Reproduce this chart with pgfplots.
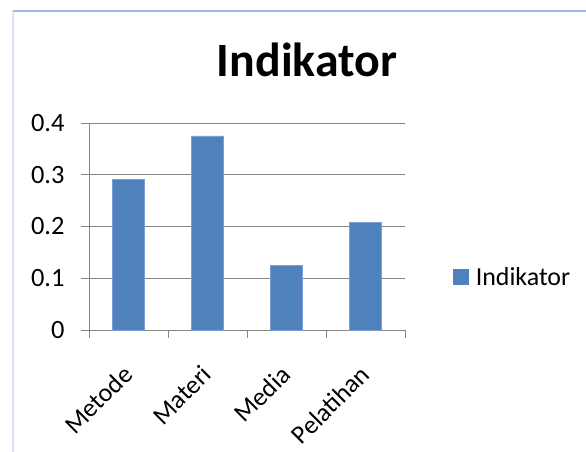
\documentclass[border=0pt]{standalone}
\usepackage{pgfplots}
\pgfplotsset{compat=1.18}
\usepackage{fontspec}
\setmainfont{Carlito}
\definecolor{barblue}{HTML}{4F81BD}
\definecolor{baredge}{HTML}{7A9FD3}
\definecolor{gridgray}{HTML}{868686}
\definecolor{frametop}{HTML}{A3B5EE}
\definecolor{frameleft}{HTML}{DCE3F3}
\begin{document}
\begin{tikzpicture}[x=1bp,y=1bp]
\useasboundingbox (0,0) rectangle (586,452);
\draw[frameleft, line width=1.5bp] (13,441) -- (13,0);
\draw[frametop, line width=1.5bp] (13,441) -- (586,441);
\node[anchor=base, font=\fontsize{48}{54}\selectfont\bfseries, inner sep=0pt] at (307,375) {Indikator};
\begin{axis}[
  at={(89bp,122bp)}, anchor=south west,
  scale only axis, width=316bp, height=207bp,
  xmin=-0.5, xmax=3.5, ymin=0, ymax=0.4,
  axis x line*=bottom, axis y line*=left,
  axis line style={gridgray, line width=0.8bp},
  ytick={0,0.1,0.2,0.3,0.4},
  ymajorgrids, grid style={gridgray, line width=0.8bp},
  tick align=outside,
  major tick length=8bp, minor tick length=8bp,
  xtick={0,1,2,3},
  xticklabels={Metode,Materi,Media,Pelatihan},
  minor xtick={-0.5,0.5,1.5,2.5,3.5},
  major x tick style={draw=none},
  minor x tick style={gridgray, line width=0.8bp},
  ytick style={gridgray, line width=0.8bp},
  /pgf/number format/assume math mode=true,
  yticklabel style={font=\fontsize{26.5}{30}\selectfont, xshift=-13bp, /pgf/number format/fixed, /pgf/number format/precision=1},
  xticklabel style={font=\fontsize{26}{30}\selectfont, rotate=45, anchor=north east, inner sep=0pt, xshift=-23bp, yshift=-13bp},
  ybar, bar width=32bp,
  legend style={at={(1.152,0.255)}, anchor=west, draw=none, fill=none, inner sep=0pt,
    font=\fontsize{26}{30}\selectfont, legend cell align=left},
  legend image code/.code={\fill[barblue] (0bp,-7.5bp) rectangle (15bp,7.5bp); \path (20bp,0);},
  clip=false,
]
\addplot[fill=barblue, draw=baredge, line width=0.6bp] coordinates {(0,0.2917) (1,0.375) (2,0.125) (3,0.2083)};
\addlegendentry{Indikator}
\end{axis}
\end{tikzpicture}
\end{document}
